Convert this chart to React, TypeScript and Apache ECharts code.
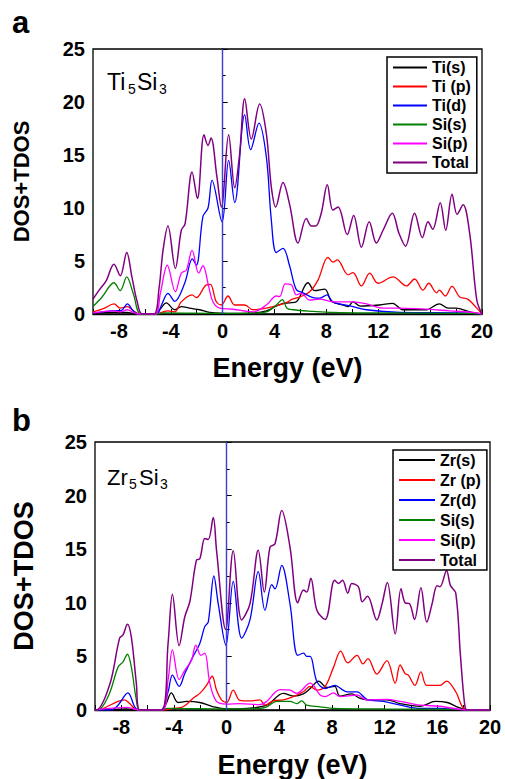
import React, { useEffect, useRef } from "react";
import * as echarts from "echarts";

// ---------- Panel a : Ti5Si3 ----------
const tiS = [[-10,0.05],[-8.4,0.15],[-7.4,0.15],[-6.6,0],[-5.2,0],[-4.8,0.5],[-4.35,1.05],[-3.7,0.4],[-3.19,0.7],[-2.55,0.55],[-1.77,0.4],[-1.0,0.15],[0.8,0.05],[2.4,0.1],[3.37,0.3],[4.65,1.0],[5.17,1.05],[5.68,1.15],[6.58,2.95],[7.1,2.2],[7.87,2.35],[8.4,1.2],[9.28,0.85],[9.67,0.7],[10.05,1.15],[10.6,0.75],[12.1,0.85],[13.1,1.0],[13.9,0.4],[15.7,0.4],[16.7,0.95],[17.4,0.55],[18.0,0.55],[19.05,0.2],[20,0]];
const tiP = [[-10,0.2],[-9.2,0.5],[-8.38,0.95],[-7.9,0.55],[-7.35,0.7],[-6.9,0.3],[-6.4,0],[-5.2,0],[-4.7,0.15],[-4.22,0.3],[-3.7,0.2],[-3.19,1.15],[-2.36,1.8],[-2.03,1.55],[-1.26,2.75],[-0.95,2.8],[-0.49,1.15],[-0.1,0.85],[0.41,1.7],[0.93,0.85],[1.7,0.85],[2.34,0.4],[3.37,0.55],[4.4,0.85],[5.04,1.15],[5.37,1.4],[5.94,1.6],[6.71,2.1],[7.35,3.2],[8.12,5.35],[8.5,4.9],[8.84,5.1],[9.67,3.7],[10.05,3.9],[10.7,2.65],[11.34,3.85],[11.98,2.9],[13.14,3.5],[14.17,2.65],[14.8,3.3],[15.45,2.25],[15.89,2.9],[16.5,2.0],[16.7,2.25],[17.17,1.7],[17.69,2.6],[18.28,1.6],[18.9,1.4],[19.6,0.55],[20,0]];
const tiD = [[-10,0.1],[-8.5,0.3],[-7.8,0.35],[-7.35,0.95],[-6.9,0.3],[-6.5,0],[-5.1,0],[-4.7,0.9],[-4.22,1.95],[-3.7,1.2],[-2.93,2.9],[-2.34,5.2],[-2.03,4.6],[-1.52,9.2],[-1.13,10.0],[-0.82,12.6],[-0.05,8.7],[0.46,14.5],[0.93,10.5],[1.7,18.8],[2.16,15.5],[2.8,18.0],[3.37,14.8],[3.75,8.9],[4.14,5.8],[4.65,6.2],[5.17,4.5],[5.68,2.3],[6.2,2.0],[6.97,1.55],[7.5,1.5],[8.05,1.8],[8.5,1.15],[10.05,0.7],[11.1,0.4],[13.65,0.15],[18.5,0.1],[20,0]];
const tiSiS = [[-10,0.7],[-9.3,1.6],[-8.38,2.95],[-7.9,2.2],[-7.4,3.5],[-6.9,1.95],[-6.3,0],[-5.1,0],[-4.5,0.1],[0,0.05],[2.5,0.1],[3.37,0.2],[4.14,0.85],[4.6,1.35],[4.96,0.55],[5.42,0.4],[7.0,0.25],[8.5,0.15],[12,0.1],[19,0.05],[20,0]];
const tiSiP = [[-10,0.1],[-8.38,0.3],[-7.9,0.2],[-7.35,0.4],[-6.9,0.15],[-6.5,0],[-5.2,0],[-4.8,2.0],[-4.27,4.6],[-3.65,2.1],[-3.19,3.85],[-2.8,4.15],[-2.36,6.0],[-1.85,3.85],[-1.52,4.55],[-1.08,2.6],[-0.75,1.15],[-0.23,0.55],[0.8,0.45],[2.34,0.2],[3.37,0.85],[4.14,1.7],[4.4,1.65],[4.83,2.85],[5.3,2.75],[5.68,1.8],[6.07,1.95],[6.71,1.3],[7.48,1.4],[8.5,1.15],[10.05,1.15],[11.1,0.95],[12.37,0.55],[13.65,0.55],[14.9,0.5],[17.5,0.3],[19.3,0.15],[20,0]];
const tiTotal = [[-10,1.4],[-9.5,2.3],[-9,3.1],[-8.38,4.7],[-7.9,3.6],[-7.4,5.8],[-7.0,3.5],[-6.6,1.2],[-6.2,0],[-5.3,0],[-4.9,2.5],[-4.6,6.0],[-4.22,8.3],[-3.65,4.3],[-3.19,7.9],[-2.9,8.5],[-2.36,13.4],[-1.95,10.9],[-1.44,16.9],[-1.13,15.9],[-0.9,16.6],[-0.45,13.0],[-0.1,10.1],[0.46,16.9],[0.93,11.9],[1.3,15.0],[1.7,20.3],[2.21,16.5],[2.85,19.8],[3.37,17.0],[3.75,12.0],[4.09,10.1],[4.65,12.4],[5.17,10.3],[5.81,6.7],[6.45,9.0],[6.84,8.3],[7.17,8.3],[7.6,9.5],[8.07,12.2],[8.5,9.8],[8.9,10.1],[9.61,7.5],[10.1,9.3],[10.7,6.3],[11.3,8.7],[11.85,6.7],[12.37,7.9],[13.08,9.5],[13.6,7.6],[14.1,6.4],[14.8,9.5],[15.4,7.2],[15.84,8.7],[16.2,8.0],[16.78,10.5],[17.2,7.9],[17.69,11.3],[18.08,9.4],[18.54,10.3],[19.05,7.6],[19.6,1.3],[20,0]];

// ---------- Panel b : Zr5Si3 ----------
const zrS = [[-10,0],[-8.6,0.05],[-7.6,0.1],[-6.7,0],[-5.0,0],[-4.6,0.6],[-4.2,1.6],[-3.69,0.7],[-3.05,0.8],[-2.04,0.7],[-1.02,0.3],[0,0.1],[1.52,0.15],[3.04,0.45],[4.3,1.55],[5.06,1.3],[5.82,1.5],[6.34,2.0],[6.98,2.7],[7.6,2.1],[8.2,2.2],[8.6,1.3],[9.5,1.5],[10.1,1.1],[10.65,0.95],[12.17,0.95],[13.17,0.6],[14.7,0.35],[15.85,0.8],[16.75,0.7],[17.5,0.3],[18.3,0],[20,0]];
const zrP = [[-10,0],[-9.6,0.05],[-8.25,0.8],[-7.75,0.95],[-7.37,0.6],[-7.0,0.15],[-6.7,0],[-4.8,0],[-4.07,0.15],[-3.3,0.3],[-2.55,1.1],[-2.04,1.55],[-1.53,2.3],[-1.1,3.15],[-0.77,1.85],[-0.39,0.95],[0,0.7],[0.5,1.85],[1.0,0.9],[1.77,0.85],[2.53,0.95],[2.91,0.45],[3.54,0.85],[4.3,0.95],[5.06,1.25],[5.82,1.7],[6.34,2.2],[6.85,1.85],[7.48,2.2],[8.12,4.0],[8.66,5.5],[9.2,4.4],[9.9,5.1],[10.35,4.3],[10.73,4.8],[11.4,3.35],[12.17,4.6],[12.8,2.5],[13.17,4.2],[13.55,3.4],[13.8,3.25],[14.3,2.3],[14.75,3.55],[15.2,2.3],[16.2,2.3],[16.7,2.7],[17.4,1.7],[17.9,0.3],[18.3,0],[20,0]];
const zrD = [[-10,0],[-8.8,0],[-8.25,0.45],[-7.5,1.6],[-6.99,0.3],[-6.7,0],[-5.0,0],[-4.45,1.7],[-4.12,3.25],[-3.61,2.2],[-3.18,3.4],[-2.55,5.0],[-2.04,6.2],[-1.66,7.8],[-1.4,8.2],[-0.97,12.5],[-0.64,9.9],[-0.06,6.05],[0.5,12.0],[1.14,6.7],[1.77,8.4],[2.4,12.9],[2.91,9.3],[3.42,11.7],[3.67,11.3],[4.18,13.5],[4.81,9.9],[5.4,5.1],[5.84,5.3],[6.08,5.0],[6.34,5.0],[6.85,2.65],[7.48,2.0],[8.2,2.3],[9.14,1.7],[9.9,1.7],[10.65,1.0],[11.9,0.8],[13.2,0.45],[14.7,0.15],[16.2,0.15],[18.3,0],[20,0]];
const zrSiS = [[-10,0],[-9.6,0.1],[-8.9,1.55],[-8.25,4.0],[-7.87,4.5],[-7.54,5.2],[-7.24,4.0],[-6.86,0.95],[-6.6,0],[-5.0,0],[-4.5,0.15],[0,0.1],[2.5,0.15],[3.04,0.3],[3.8,0.8],[4.81,0.8],[5.32,0.6],[5.7,0.85],[6.08,0.45],[7.1,0.3],[8.12,0.15],[12,0.1],[18,0.05],[18.3,0],[20,0]];
const zrSiP = [[-10,0],[-8.9,0.15],[-7.6,0.25],[-6.7,0],[-4.9,0],[-4.45,2.8],[-4.12,5.6],[-3.61,2.85],[-3.18,3.7],[-2.67,4.65],[-2.34,6.05],[-1.96,5.1],[-1.66,5.3],[-1.28,2.5],[-0.77,0.8],[0,0.55],[1.0,0.6],[2.53,0.5],[3.04,0.8],[4.05,1.9],[4.81,1.85],[5.32,1.55],[6.34,2.5],[7.1,1.4],[7.48,1.25],[8.12,1.6],[8.6,1.25],[9.9,1.4],[10.65,0.95],[12.17,1.0],[13.17,0.8],[14.7,0.45],[16.2,0.35],[18.3,0],[20,0]];
const zrTotal = [[-10,0],[-9.9,0],[-8.9,2.3],[-8.13,6.7],[-7.87,7.0],[-7.54,8.0],[-7.24,6.8],[-6.86,2.5],[-6.6,0],[-4.95,0],[-4.45,6.2],[-4.12,10.8],[-3.61,6.0],[-3.18,8.7],[-2.8,10.1],[-2.29,14.0],[-2.04,14.1],[-1.66,16.0],[-1.4,15.9],[-1.02,17.95],[-0.77,14.9],[-0.08,7.5],[0.5,14.85],[1.14,8.4],[1.77,9.9],[2.4,14.9],[2.86,11.0],[3.29,15.2],[3.67,15.5],[4.18,18.6],[4.81,15.2],[5.4,10.0],[5.84,11.2],[6.08,11.0],[6.39,12.3],[6.85,9.3],[7.48,8.45],[8.2,12.1],[8.5,11.8],[8.8,12.1],[9.2,10.9],[9.5,11.8],[10.0,11.5],[10.3,10.1],[10.7,10.6],[11.4,8.4],[11.8,9.9],[12.2,11.9],[12.8,7.1],[13.24,11.3],[13.55,10.0],[13.9,9.9],[14.27,8.45],[14.75,11.4],[15.2,8.2],[15.6,9.9],[15.98,11.6],[16.2,11.5],[16.7,13.0],[17.0,11.6],[17.4,10.9],[17.76,5.0],[18.1,0.3],[18.3,0],[20,0]];

const namesA = ["Ti(s)", "Ti (p)", "Ti(d)", "Si(s)", "Si(p)", "Total"];
const namesB = ["Zr(s)", "Zr (p)", "Zr(d)", "Si(s)", "Si(p)", "Total"];
const colors = ["#000000", "#ff0000", "#0000ff", "#008000", "#ff00ff", "#800080"];
const yTicks = [0, 5, 10, 15, 20, 25];
const xRange = [-10, 20];

const FONT = '"Liberation Sans", Arial, Helvetica, sans-serif';

function makeSeries(names: string[], data: number[][][], axisIdx: number) {
  return names.map((n, i) => ({
    type: "line",
    name: n,
    xAxisIndex: axisIdx,
    yAxisIndex: axisIdx,
    data: data[i],
    smooth: 0.35,
    symbol: "none",
    z: i === 5 ? 3 : 2,
    lineStyle: { color: colors[i], width: i === 5 ? 1.5 : 1.3 },
    itemStyle: { color: colors[i] },
    ...(i === 5
      ? {
          markLine: {
            silent: true,
            symbol: ["none", "none"],
            label: { show: false },
            lineStyle: { color: "#3a3aff", width: 1, type: "solid" },
            data: [{ xAxis: 0 }],
          },
        }
      : {}),
  }));
}

function xAxisCfg(gridIndex: number, nameGap: number) {
  return {
    type: "value",
    gridIndex,
    min: xRange[0],
    max: xRange[1],
    interval: 2,
    name: "Energy (eV)",
    nameLocation: "middle",
    nameGap,
    nameTextStyle: { fontFamily: FONT, fontWeight: "bold", fontSize: 27, color: "#000" },
    axisLine: { show: true, lineStyle: { color: "#000", width: 1.3 } },
    axisTick: { show: true, inside: true, length: 5, lineStyle: { color: "#000", width: 1 } },
    minorTick: { show: false },
    splitLine: { show: false },
    axisLabel: {
      margin: 7,
      fontFamily: FONT,
      fontWeight: "bold",
      fontSize: 20,
      color: "#000",
      formatter: (v: number) => (v % 4 === 0 ? String(v) : ""),
    },
  };
}

function yAxisCfg(gridIndex: number, nameGap: number, nameSize: number) {
  return {
    type: "value",
    gridIndex,
    min: yTicks[0],
    max: yTicks[yTicks.length - 1],
    interval: 5,
    name: "DOS+TDOS",
    nameLocation: "middle",
    nameGap,
    nameRotate: 90,
    nameTextStyle: { fontFamily: FONT, fontWeight: "bold", fontSize: nameSize, color: "#000" },
    axisLine: { show: true, lineStyle: { color: "#000", width: 1.3 } },
    axisTick: { show: true, inside: true, length: 5, lineStyle: { color: "#000", width: 1 } },
    minorTick: { show: true, splitNumber: 2, length: 3, lineStyle: { color: "#000", width: 1 } },
    splitLine: { show: false },
    axisLabel: { margin: 8, fontFamily: FONT, fontWeight: "bold", fontSize: 20, color: "#000" },
  };
}

function legendCfg(names: string[], left: number, top: number, itemWidth: number, lh: number, padV: number) {
  return {
    show: true,
    orient: "vertical",
    left,
    top,
    data: names.map((n) => ({ name: n, icon: "rect" })),
    itemWidth,
    itemHeight: 2,
    itemGap: 0,
    padding: [padV, 6, padV, 6],
    borderColor: "#000",
    borderWidth: 1.5,
    borderRadius: 0,
    backgroundColor: "#ffffff",
    selectedMode: false,
    textStyle: { fontFamily: FONT, fontWeight: "bold", fontSize: 16, color: "#000", lineHeight: lh },
  };
}

function txt(text: string, x: number, y: number, size: number, bold = false) {
  return {
    type: "text",
    x,
    y,
    silent: true,
    style: {
      text,
      font: `${bold ? "bold " : ""}${size}px ${FONT}`,
      fill: "#000",
      textAlign: "left",
      textVerticalAlign: "middle",
    },
  };
}

export default function App() {
  const ref = useRef<HTMLDivElement>(null);
  useEffect(() => {
    if (!ref.current) return;
    const chart = echarts.init(ref.current, null, { renderer: "svg" });
    chart.setOption({
      animation: false,
      backgroundColor: "#ffffff",
      grid: [
        { left: 93, top: 49, width: 389, height: 265, show: true, borderColor: "#000", borderWidth: 1.3, backgroundColor: "transparent" },
        { left: 95, top: 442, width: 395, height: 268, show: true, borderColor: "#000", borderWidth: 1.3, backgroundColor: "transparent" },
      ],
      xAxis: [xAxisCfg(0, 40), xAxisCfg(1, 41)],
      yAxis: [yAxisCfg(0, 61, 22), yAxisCfg(1, 58, 27)],
      legend: [legendCfg(namesA, 387, 57, 34, 19, 1), legendCfg(namesB, 393, 450, 36, 20, 0)],
      series: [
        ...makeSeries(namesA, [tiS, tiP, tiD, tiSiS, tiSiP, tiTotal], 0),
        ...makeSeries(namesB, [zrS, zrP, zrD, zrSiS, zrSiP, zrTotal], 1),
      ],
      graphic: [
        txt("a", 12, 22, 31, true),
        txt("b", 12, 420, 31, true),
        txt("Ti", 107, 82, 23),
        txt("5", 128, 89, 14),
        txt("Si", 137, 82, 23),
        txt("3", 159, 89, 14),
        txt("Zr", 107, 477, 22),
        txt("5", 129, 484, 14),
        txt("Si", 139, 477, 22),
        txt("3", 160, 484, 14),
      ],
    });
    return () => chart.dispose();
  }, []);
  return (
    <div
      ref={ref}
      style={{ position: "fixed", left: 0, top: 0, width: 505, height: 779, background: "#fff" }}
    />
  );
}
